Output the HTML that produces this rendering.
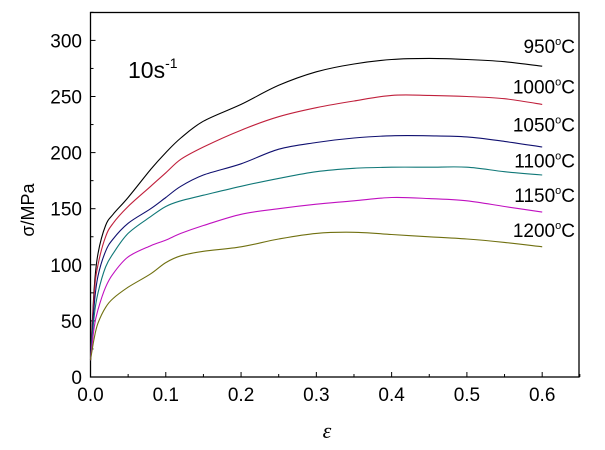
<!DOCTYPE html>
<html><head><meta charset="utf-8"><style>
body{margin:0;background:#fff;}
svg{display:block;font-family:"Liberation Sans",sans-serif;}
</style></head><body>
<svg id="c" width="605" height="450">
<rect x="90.5" y="12.5" width="488.5" height="364.5" fill="none" stroke="#000" stroke-width="1.3"/>
<g id="ax"></g><g id="lines"></g>
<text x="128" y="78" font-size="23">10s<tspan dy="-10" font-size="14">-1</tspan></text>
<text transform="translate(34,210) rotate(-90)" text-anchor="middle" font-size="18">σ/MPa</text>
<text x="327" y="438" font-size="22" font-style="italic" font-family="Liberation Serif,serif" text-anchor="middle">ε</text>
</svg>
<script>
const strain=[0,0.005,0.01,0.02,0.03,0.05,0.08,0.1,0.12,0.15,0.2,0.25,0.3,0.35,0.4,0.45,0.5,0.55,0.6];
const temps=["950","1000","1050","1100","1150","1200"];
const s950=[15,80,110,135,145,160,185,200,213,228,243,260,272,279,283,284,283,281,277];
const s1000=[15,75,100,125,137,152,170,182,194,205,220,232,240,246,251,251,250,248,243];
const s1050=[15,65,90,112,123,137,150,160,170,180,190,203,209,213,215,215,214,210,205];
const s1100=[15,55,75,98,110,128,143,152,157,162,170,177,183,186,187,187,187,183,180];
const s1150=[15,45,60,80,92,107,117,122,128,135,145,150,154,157,160,159,157,152,147];
const s1200=[15,35,48,62,70,80,92,102,108,112,116,123,128,129,127,125,123,120,116];
const series=[s950,s1000,s1050,s1100,s1150,s1200];
const colors=["#000000","#c0203c","#101070","#107878","#c010c0","#707010"];
const labelY=[295,259,225,193,162,131];
const xTicks=["0.0","0.1","0.2","0.3","0.4","0.5","0.6"];
const yTicks=["0","50","100","150","200","250","300"];
const X=v=>90.5+v*752.8, Y=v=>377-v*1.122;
const NS="http://www.w3.org/2000/svg";
const ax=document.getElementById('ax'), lg=document.getElementById('lines');
function mk(t,a,p){const e=document.createElementNS(NS,t);for(const k in a)e.setAttribute(k,a[k]);p.appendChild(e);return e;}
function smooth(P){let d='M'+P[0][0].toFixed(1)+','+P[0][1].toFixed(1);
 for(let i=0;i<P.length-1;i++){const p0=P[Math.max(0,i-1)],p1=P[i],p2=P[i+1],p3=P[Math.min(P.length-1,i+2)];
  const c1=[p1[0]+(p2[0]-p0[0])/6,p1[1]+(p2[1]-p0[1])/6],c2=[p2[0]-(p3[0]-p1[0])/6,p2[1]-(p3[1]-p1[1])/6];
  d+='C'+c1.map(v=>v.toFixed(1))+' '+c2.map(v=>v.toFixed(1))+' '+p2.map(v=>v.toFixed(1));}
 return d;}
for(let i=0;i<=13;i++){const v=i*0.05,x=X(v),L=i%2?3:5;
 const t=mk('line',{x1:x,x2:x,y1:377,y2:377-L,stroke:'#000'},ax);
 
 }
xTicks.forEach(s=>{const t=mk('text',{x:X(+s),y:401,'font-size':19,'text-anchor':'middle'},ax);t.textContent=s;
 
 });
for(let i=0;i<=13;i++){const v=i*25,y=Y(v),L=i%2?3:5;
 const t=mk('line',{x1:90.5,x2:90.5+L,y1:y,y2:y,stroke:'#000'},ax);
 
 }
yTicks.forEach(s=>{const t=mk('text',{x:82,y:Y(+s)+7,'font-size':19,'text-anchor':'end'},ax);t.textContent=s;
 
 });
series.forEach((d,k)=>{
 const p=mk('path',{d:smooth(d.map((v,i)=>[X(strain[i]),Y(v)])),fill:'none',stroke:colors[k],'stroke-width':1.1},lg);
 
 
 const t=mk('text',{x:575,y:Y(labelY[k])+7,'font-size':19,'text-anchor':'end'},lg);
 t.innerHTML=temps[k]+'<tspan dy="-8" font-size="11">o</tspan><tspan dy="8">C</tspan>';
 
 
});
</script>
</body></html>
